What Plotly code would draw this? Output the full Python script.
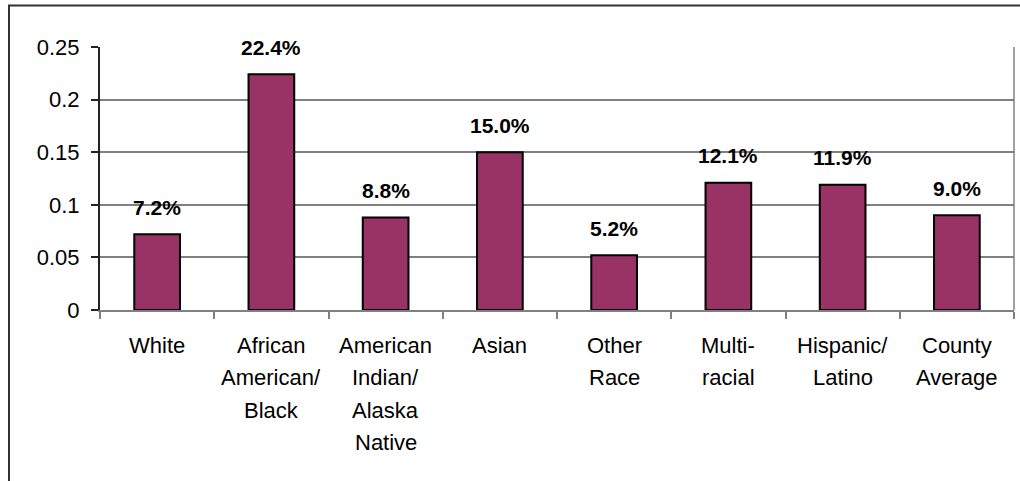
import plotly.graph_objects as go

# Rate by race / ethnicity
categories = ["White", "African American/ Black", "American Indian/ Alaska Native",
              "Asian", "Other Race", "Multi- racial", "Hispanic/ Latino", "County Average"]
label_lines = [
    ["White"],
    ["African", "American/", "Black"],
    ["American", "Indian/", "Alaska", "Native"],
    ["Asian"],
    ["Other", "Race"],
    ["Multi-", "racial"],
    ["Hispanic/", "Latino"],
    ["County", "Average"],
]
rates = [0.072, 0.224, 0.088, 0.150, 0.052, 0.121, 0.119, 0.090]
y_ticks = [0, 0.05, 0.1, 0.15, 0.2, 0.25]
y_tick_text = ["0", "0.05", "0.1", "0.15", "0.2", "0.25"]

W, H = 1020, 481
ML, MR, MT, MB = 100, 6, 47, 171
plot_w = W - ML - MR
plot_h = H - MT - MB

FONT = "Liberation Sans, Arial, sans-serif"
BAR = "#993366"
GRID = "#808080"

fig = go.Figure(go.Bar(
    x=categories,
    y=rates,
    width=0.4,
    marker=dict(color=BAR, line=dict(color="#000000", width=2)),
    hoverinfo="x+y",
))

annotations = []
# value labels above each bar
for cat, v in zip(categories, rates):
    annotations.append(dict(
        x=cat, y=v, xref="x", yref="y", text=f"<b>{v * 100:.1f}%</b>",
        showarrow=False, yshift=27,
        font=dict(family=FONT, size=21, color="#000000"),
    ))
# category labels, one line at a time
for cat, lines in zip(categories, label_lines):
    for i, line in enumerate(lines):
        annotations.append(dict(
            x=cat, y=0, xref="x", yref="paper", text=line,
            showarrow=False, yanchor="middle", yshift=-35 - 32.5 * i,
            font=dict(family=FONT, size=22, color="#000000"),
        ))

def px_x(p):
    return (p - ML) / plot_w

def px_y(p):
    return (H - MB - p) / plot_h

shapes = [
    # outer frame (runs off the right and bottom edges)
    dict(type="rect", xref="paper", yref="paper",
         x0=px_x(9), x1=px_x(W + 20), y0=px_y(H + 20), y1=px_y(5.5),
         line=dict(color="#333333", width=2), fillcolor="rgba(0,0,0,0)", layer="below"),
    # right border of plot area
    dict(type="line", xref="paper", yref="paper", x0=1, x1=1, y0=0, y1=1,
         line=dict(color=GRID, width=1.5)),
]

fig.update_layout(
    width=W, height=H,
    margin=dict(l=ML, r=MR, t=MT, b=MB, pad=0),
    paper_bgcolor="#ffffff", plot_bgcolor="#ffffff",
    showlegend=False,
    bargap=0.6,
    annotations=annotations,
    shapes=shapes,
    font=dict(family=FONT, size=20, color="#000000"),
)
fig.update_xaxes(
    type="category", showticklabels=False,
    showline=True, linecolor=GRID, linewidth=1.5,
    ticks="outside", tickson="boundaries", ticklen=7, tickcolor=GRID, tickwidth=1.5,
    showgrid=False, zeroline=False, fixedrange=True,
)
fig.update_yaxes(
    range=[0, 0.25], tickvals=y_ticks, ticktext=y_tick_text,
    showline=True, linecolor="#222222", linewidth=2,
    ticks="outside", ticklen=7, tickcolor="#222222", tickwidth=1.5,
    ticklabelstandoff=7,
    tickfont=dict(family=FONT, size=22, color="#000000"),
    showgrid=True, gridcolor=GRID, gridwidth=1.5,
    zeroline=False, fixedrange=True,
)

fig.write_html("out.html", config={"displayModeBar": False})
